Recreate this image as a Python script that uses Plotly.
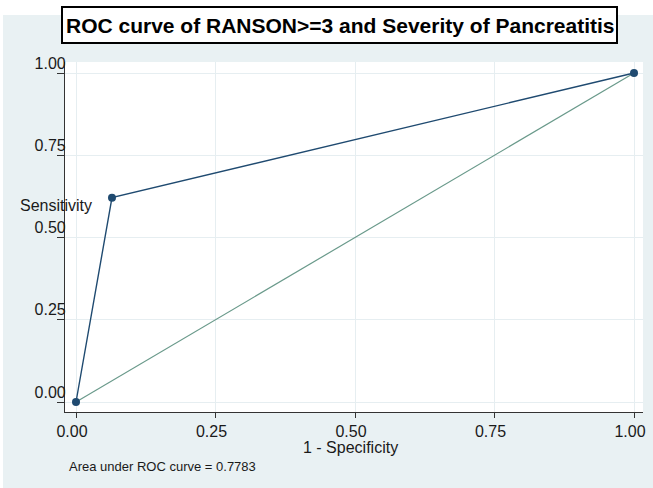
import plotly.graph_objects as go

# Data
fpr = [0.0, 0.0645, 1.0]          # 1 - Specificity
tpr = [0.0, 0.6211, 1.0]          # Sensitivity
ref_x = [0.0, 1.0]
ref_y = [0.0, 1.0]
tick_vals = [0.0, 0.25, 0.5, 0.75, 1.0]
tick_text = ["0.00", "0.25", "0.50", "0.75", "1.00"]
title_text = "ROC curve of RANSON>=3 and Severity of Pancreatitis"
auc_text = "Area under ROC curve = 0.7783"

W, H = 653, 488
L, R, T, B = 65, 10, 62, 76
pw, ph = W - L - R, H - T - B

def px_x(p):
    return (p - L) / pw

def px_y(p):
    return (H - B - p) / ph

BG = "#e9f1f3"
GRID = "#e6eef1"
NAVY = "#1f4a70"
GREEN = "#6a9a8b"
FONT = "Liberation Sans, Arial, sans-serif"

fig = go.Figure()
fig.add_trace(go.Scatter(x=ref_x, y=ref_y, mode="lines",
                         line=dict(color=GREEN, width=1.2), showlegend=False,
                         hoverinfo="skip"))
fig.add_trace(go.Scatter(x=fpr, y=tpr, mode="lines+markers",
                         line=dict(color=NAVY, width=1.4),
                         marker=dict(color=NAVY, size=8), showlegend=False))

# grey graph region
fig.add_shape(type="rect", xref="paper", yref="paper",
              x0=px_x(3), x1=px_x(660), y0=px_y(495), y1=px_y(15),
              fillcolor=BG, line=dict(width=0), layer="below")
# white plot region
fig.add_shape(type="rect", xref="paper", yref="paper",
              x0=0, x1=1, y0=0, y1=1,
              fillcolor="white", line=dict(width=0), layer="below")
# title box
fig.add_shape(type="rect", xref="paper", yref="paper",
              x0=px_x(62), x1=px_x(617), y0=px_y(43), y1=px_y(7),
              fillcolor="white", line=dict(color="black", width=2))
fig.add_annotation(xref="paper", yref="paper", x=px_x(340), y=px_y(25.5),
                   text="<b>" + title_text + "</b>", showarrow=False,
                   font=dict(family=FONT, size=21, color="black"),
                   xanchor="center", yanchor="middle")
fig.add_annotation(xref="paper", yref="paper", x=px_x(56), y=px_y(205),
                   text="Sensitivity", showarrow=False,
                   font=dict(family=FONT, size=16, color="#1a1a1a"),
                   xanchor="center", yanchor="middle")
fig.add_annotation(xref="paper", yref="paper", x=px_x(67), y=px_y(467),
                   text=auc_text, showarrow=False,
                   font=dict(family=FONT, size=13, color="#1a1a1a"),
                   xanchor="left", yanchor="middle")
fig.add_annotation(xref="paper", yref="paper", x=px_x(350), y=px_y(448),
                   text="1 - Specificity", showarrow=False,
                   font=dict(family=FONT, size=16, color="#1a1a1a"),
                   xanchor="center", yanchor="middle")

fig.update_layout(
    width=W, height=H,
    margin=dict(l=L, r=R, t=T, b=B, autoexpand=False),
    paper_bgcolor="white", plot_bgcolor="white",
    font=dict(family=FONT, size=16, color="#1a1a1a"),
    xaxis=dict(range=[(65 - 76) / 558, (643 - 76) / 558],
               tickvals=tick_vals, ticktext=tick_text,
               showline=True, linecolor="#333333", linewidth=1.2,
               ticks="outside", ticklen=5, tickcolor="#333333",
               showgrid=True, gridcolor=GRID, gridwidth=1, zeroline=False,
               ticklabelshift=-4, tickfont=dict(size=16)),
    yaxis=dict(range=[(402 - 412) / 329, (402 - 62) / 329],
               tickvals=tick_vals, ticktext=tick_text,
               showline=True, linecolor="#333333", linewidth=1.2,
               ticks="outside", ticklen=7, tickcolor="#333333",
               showgrid=True, gridcolor=GRID, gridwidth=1, zeroline=False,
               ticklabelshift=-10, ticklabelstandoff=-12, tickfont=dict(size=16)),
)

fig.write_html("out.html")
